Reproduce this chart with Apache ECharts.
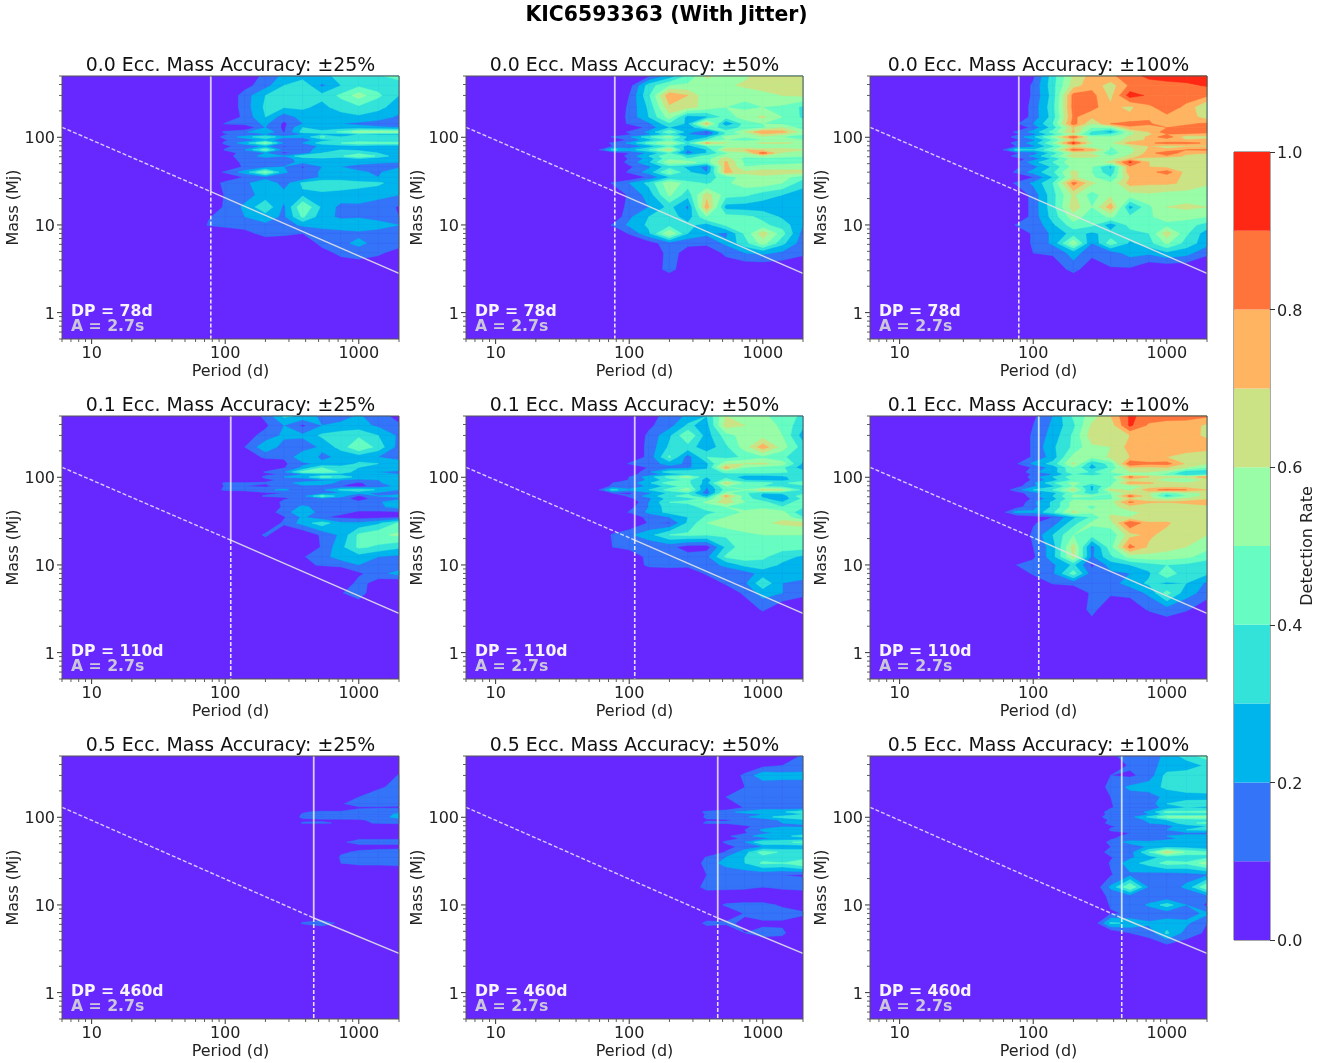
<!DOCTYPE html>
<html><head><meta charset="utf-8">
<style>html,body{margin:0;padding:0;background:#fff}#c{width:1333px;height:1063px}</style>
<script src="https://cdn.jsdelivr.net/npm/echarts@6/dist/echarts.min.js"></script></head>
<body><div id="c"></div>
<script>
const figureTitle='KIC6593363 (With Jitter)';
const eccentricities=['0.0','0.1','0.5'];
const accuracies=['25','50','100'];
const dpDays=[78,110,460];
const massAtDp=[24,19.2,7.1];
const lineLeft=[6,130];
const lineRight=[2000,2.8];
const amplitudeLabel='A = 2.7s';
const xTickMajor=[10,100,1000];
const xTickMinor=[6,7,8,9,20,30,40,50,60,70,80,90,200,300,400,500,600,700,800,900,2000];
const yTickMajor=[1,10,100];
const yTickMinor=[0.5,0.6,0.7,0.8,0.9,2,3,4,5,6,7,8,9,20,30,40,50,60,70,80,90,200,300,400,500];
const levels=[10,20,30,40,50,60,70,80,90];
const bandColors=['#6628fe','#3374f8','#00b4ec','#33e3da','#66fcc2','#99fca6','#cce385','#ffb462','#ff743b','#ff2814'];
const colorbarBands=[0.1,0.1,0.1,0.1,0.1,0.1,0.1,0.1,0.1,0.1];
// detection rate in percent, rows = masses (top to bottom), columns = periods after the leading empty column
const periods=[54,75,100,140,200,275,380,530,735,1000,1400,2000];
const masses=[500,390,300,221,170,143,129,115,108,101,93,86,79,72,66,61,57,52,46,40,35,30,22,16,12.4,10,8,6.2,4.8,3.1,2.4];
const e00a25=[
[0,0,0,14,22,25,28,32,35,38,46],
[0,0,6,16,30,38,18,30,38,36,32],
[0,0,15,30,33,36,33,42,55,42,30],
[0,0,15,32,31,32,27,35,38,33,25],
[0,0,13,30,14,24,25,25,28,25,18],
[0,11,14,22,8,20,22,20,18,15,12],
[0,0,0,20,8,30,24,24,24,22,20],
[0,12,18,30,9,34,33,42,55,55,52],
[0,9,13,18,14,20,28,26,30,28,28],
[0,14,24,40,22,22,42,30,32,35,35],
[0,9,14,24,14,15,26,32,32,30,30],
[0,12,25,52,18,20,35,40,48,45,44],
[0,8,14,22,9,14,22,25,26,24,24],
[0,11,20,46,14,12,28,30,28,26,25],
[0,6,13,20,8,14,30,35,38,30,22],
[0,5,17,22,20,38,40,38,50,38,22],
[0,4,15,18,15,25,28,24,30,24,20],
[0,0,14,18,17,22,24,26,24,22,20],
[0,0,12,16,20,9,20,20,16,14,18],
[0,12,24,52,22,12,22,24,22,18,30],
[0,0,11,15,12,10,22,24,20,20,22],
[0,14,17,29,15,32,38,36,34,32,24],
[0,11,16,24,24,28,27,26,25,23,20],
[0,12,22,38,18,50,28,17,18,15,9],
[9,15,20,25,18,42,24,18,19,16,10],
[11,14,16,18,15,22,26,26,26,24,20],
[0,0,5,15,13,10,12,16,18,16,14],
[0,0,0,0,0,0,14,18,22,17,15],
[0,0,0,0,0,0,5,13,16,12,5],
[0,0,0,0,0,0,0,0,0,0,0],
[0,0,0,0,0,0,0,0,0,0,0]];
const e00a50=[
[0,0,8,24,42,62,55,58,65,66,66],
[0,5,35,50,52,55,58,62,65,66,66],
[0,10,38,78,70,52,50,52,56,60,62],
[0,12,32,68,64,56,50,48,50,48,38],
[0,13,30,55,25,28,44,55,62,50,38],
[0,12,18,38,28,72,20,44,50,48,45],
[0,0,14,30,22,45,36,42,48,60,45],
[0,12,22,48,25,8,42,60,80,74,55],
[0,9,18,36,20,12,42,52,68,62,50],
[11,18,38,55,28,28,55,50,58,50,44],
[0,12,26,42,26,40,50,48,50,50,50],
[12,22,44,60,36,72,60,55,62,62,58],
[10,12,24,42,26,40,50,50,50,50,50],
[32,25,40,66,20,30,68,70,66,68,62],
[0,10,22,40,16,30,48,56,86,58,50],
[0,14,30,50,36,42,55,52,60,55,50],
[0,11,24,48,40,45,66,46,45,44,44],
[0,14,28,58,54,45,72,48,42,45,48],
[0,8,18,36,28,16,74,50,55,55,55],
[0,12,24,52,32,20,74,62,64,64,64],
[0,0,12,30,30,38,42,56,58,54,44],
[11,20,33,58,45,38,48,55,56,50,34],
[0,12,24,52,34,66,44,42,35,30,25],
[0,14,20,33,18,76,26,25,24,24,25],
[0,18,30,36,24,50,44,42,38,28,25],
[11,22,32,36,33,26,42,42,42,36,20],
[0,11,28,60,30,22,18,42,66,44,16],
[0,0,5,16,12,13,22,36,55,33,14],
[0,0,0,14,6,0,13,20,22,18,12],
[0,0,0,15,0,0,0,0,0,0,0],
[0,0,0,0,0,0,0,0,0,0,0]];
const e00a100=[
[0,8,35,62,74,78,85,93,95,95,95],
[0,12,36,65,76,65,82,84,86,88,91],
[0,12,34,84,84,67,95,88,84,84,82],
[0,14,36,84,84,72,68,78,85,78,58],
[0,14,34,82,72,72,72,78,78,76,65],
[9,20,40,85,60,80,84,82,72,78,82],
[0,14,34,70,50,50,78,74,80,84,84],
[12,24,44,72,38,24,58,70,86,86,85],
[8,16,36,60,35,40,58,68,80,78,74],
[14,28,52,88,52,50,62,72,88,62,68],
[8,18,40,70,55,52,64,72,72,70,72],
[14,24,50,92,60,58,74,78,84,84,78],
[10,18,38,66,52,50,60,70,66,68,68],
[34,30,48,85,76,48,56,72,72,80,82],
[8,15,34,60,58,44,58,74,90,72,70],
[14,22,42,68,66,50,62,78,78,68,60],
[6,14,32,56,55,56,70,64,60,60,60],
[8,26,40,58,55,62,92,70,62,60,65],
[8,16,32,54,50,28,78,70,68,62,66],
[12,24,38,64,50,32,78,76,85,66,68],
[0,10,30,62,52,40,70,74,74,68,66],
[12,22,40,84,62,52,74,72,72,68,62],
[0,14,36,62,45,58,56,58,55,55,52],
[0,14,36,66,50,76,26,48,60,62,60],
[0,14,34,56,44,52,42,48,56,54,50],
[11,12,28,46,42,24,44,46,46,44,36],
[0,12,22,34,28,34,36,40,66,42,24],
[0,12,22,58,20,46,28,36,52,36,24],
[0,10,12,24,14,15,24,22,28,24,12],
[0,0,0,15,0,9,8,0,0,0,0],
[0,0,0,0,0,0,0,0,0,0,0]];
const e01a25=[
[0,0,0,13,32,28,17,17,21,16,5],
[0,0,0,8,20,8,20,22,24,18,12],
[0,0,5,14,22,22,32,36,38,30,18],
[0,0,10,27,16,14,22,34,50,36,16],
[0,0,0,13,11,28,18,22,24,20,14],
[0,0,0,0,8,18,22,22,32,30,27],
[0,0,0,0,9,22,40,36,30,28,26],
[0,0,0,11,18,44,48,38,24,20,18],
[0,0,0,8,11,20,24,26,24,22,20],
[0,0,0,12,20,24,42,38,25,24,24],
[0,0,0,8,12,14,18,20,18,20,22],
[0,12,11,11,16,24,26,16,8,18,28],
[0,11,10,8,14,18,16,10,6,16,22],
[0,13,12,18,22,14,18,32,38,28,20],
[0,0,6,8,10,11,14,20,22,18,18],
[0,0,5,11,11,16,42,24,8,20,22],
[0,0,0,5,9,12,16,14,6,14,18],
[0,0,0,0,13,15,14,10,12,18,28],
[0,0,0,0,12,22,16,16,14,18,24],
[0,0,0,5,14,30,14,12,9,8,9],
[0,0,0,0,9,22,11,8,6,7,9],
[0,0,0,0,12,24,36,22,22,28,42],
[0,0,0,12,0,0,12,22,42,48,52],
[0,0,0,0,0,0,11,27,42,38,32],
[0,0,0,0,0,9,16,25,26,20,18],
[0,0,0,0,0,8,11,13,20,14,12],
[0,0,0,0,0,0,0,0,8,16,24],
[0,0,0,0,0,0,0,0,14,5,0],
[0,0,0,0,0,0,0,9,16,0,0],
[0,0,0,0,0,0,0,0,0,0,0],
[0,0,0,0,0,0,0,0,0,0,0]];
const e01a50=[
[0,0,6,14,22,30,60,55,52,45,38],
[0,0,8,16,32,26,65,60,55,48,32],
[0,0,12,28,50,25,45,55,55,50,25],
[0,0,13,32,36,22,38,55,76,55,35],
[0,0,13,42,15,40,36,42,48,42,32],
[0,11,15,24,18,28,58,60,62,55,28],
[0,0,11,16,18,28,74,50,46,42,24],
[0,0,18,36,38,34,42,44,44,42,34],
[0,7,14,24,30,30,38,36,36,34,30],
[0,10,25,44,55,30,38,24,22,28,36],
[0,11,22,36,42,26,44,30,28,28,34],
[10,14,28,46,42,26,66,46,44,36,50],
[12,12,22,34,46,20,50,40,40,36,36],
[34,22,30,44,55,18,44,50,64,60,36],
[10,8,18,32,38,14,52,42,30,32,36],
[0,12,24,38,44,26,74,45,28,24,48],
[0,7,18,34,38,42,64,46,32,24,42],
[0,0,20,40,42,52,66,50,44,30,50],
[0,6,20,36,36,44,50,46,46,40,42],
[0,11,22,34,32,38,42,52,58,54,30],
[0,0,14,20,30,42,50,54,58,58,40],
[0,0,11,9,32,50,56,56,58,62,64],
[11,18,26,40,42,40,42,48,50,50,50],
[10,14,12,13,5,5,32,48,46,44,44],
[0,0,14,14,14,17,42,46,42,34,28],
[0,0,13,15,14,16,22,33,36,28,24],
[0,0,0,0,0,12,14,15,24,24,28],
[0,0,0,0,0,0,12,18,38,20,15],
[0,0,0,0,0,0,0,13,24,20,13],
[0,0,0,0,0,0,0,0,12,0,0],
[0,0,0,0,0,0,0,0,0,0,0]];
const e01a100=[
[0,8,20,42,55,70,92,86,84,84,82],
[0,10,22,38,62,64,92,78,76,75,68],
[0,12,24,42,66,60,70,78,76,74,68],
[0,12,28,42,58,60,74,76,76,75,76],
[0,12,24,54,52,62,70,72,70,66,60],
[9,22,34,62,30,44,88,82,84,68,60],
[0,12,24,50,26,42,70,68,70,60,50],
[0,18,25,48,38,50,60,60,55,32,30],
[0,12,20,40,34,44,52,52,46,30,36],
[0,15,30,46,48,46,82,70,62,62,78],
[0,12,26,42,40,42,66,62,56,54,62],
[0,18,38,54,42,46,76,72,64,60,66],
[6,18,28,50,28,50,56,62,64,64,64],
[15,30,40,64,28,64,58,76,84,80,70],
[6,15,26,48,34,50,64,62,44,56,62],
[0,16,30,52,50,48,84,62,34,50,65],
[0,12,26,48,46,48,68,62,56,62,68],
[0,18,32,54,54,56,82,72,70,74,78],
[6,16,32,54,48,56,66,62,62,62,66],
[24,22,38,62,52,58,58,62,62,62,62],
[0,6,10,28,42,62,60,60,62,62,62],
[0,9,15,36,52,56,90,72,72,62,62],
[0,12,30,50,44,42,66,72,66,62,60],
[0,10,25,64,16,46,84,68,64,60,52],
[0,8,26,62,18,38,54,56,55,52,46],
[10,14,18,32,8,24,30,36,40,38,32],
[0,12,18,45,14,18,20,28,50,30,32],
[0,0,11,13,13,16,24,32,28,30,18],
[0,0,0,0,12,12,14,22,44,24,16],
[0,0,0,0,14,0,0,12,15,12,0],
[0,0,0,0,8,0,0,0,8,0,0]];
const e05a25=[
[0,0,0,0,0,0,0,0,0,0,0],
[0,0,0,0,0,0,0,0,0,0,0],
[0,0,0,0,0,0,0,0,0,0,11],
[0,0,0,0,0,0,0,0,0,9,12],
[0,0,0,0,0,0,0,8,10,13,13],
[0,0,0,0,0,0,0,9,14,12,12],
[0,0,0,0,0,0,0,0,9,9.5,9],
[0,0,0,0,0,9,12,12,13,14,18],
[0,0,0,0,0,11,12,13,13,15,22],
[0,0,0,0,0,12,13,13,12,15,24],
[0,0,0,0,0,8,9,9,9.5,11,16],
[0,0,0,0,0,11,11,9,8,11,13],
[0,0,0,0,0,0,0,0,0,0,0],
[0,0,0,0,0,0,0,0,0,0,0],
[0,0,0,0,0,0,0,0,0,0,0],
[0,0,0,0,0,0,0,0,0,0,0],
[0,0,0,0,0,0,0,8,9.5,9.5,9.5],
[0,0,0,0,0,0,0,9,12,12,12],
[0,0,0,0,0,0,0,0,8,8,8],
[0,0,0,0,0,0,0,9,11,12,13],
[0,0,0,0,0,0,0,11,13,13,14],
[0,0,0,0,0,0,0,10,12,12,13],
[0,0,0,0,0,0,0,0,0,0,0],
[0,0,0,0,0,0,0,0,0,0,0],
[0,0,0,0,0,0,0,0,0,0,0],
[0,0,0,0,0,0,0,0,0,0,0],
[0,0,0,0,0,0,0,0,0,0,0],
[0,0,0,0,0,11,14,8,0,0,0],
[0,0,0,0,0,0,0,0,0,0,0],
[0,0,0,0,0,0,0,0,0,0,0],
[0,0,0,0,0,0,0,0,0,0,0]];
const e05a50=[
[0,0,0,0,0,0,0,0,0,0,12],
[0,0,0,0,0,0,0,0,7,10,12],
[0,0,0,0,0,0,0,13,27,24,24],
[0,0,0,0,0,0,0,10,11,13,13],
[0,0,0,0,0,0,10,12,13,14,14],
[0,0,0,0,0,0,6,13,20,16,14],
[0,0,0,0,0,0,0,11,17,13,11],
[0,0,0,0,0,13,18,22,24,28,40],
[0,0,0,0,0,11,14,18,20,24,30],
[0,0,0,0,0,12,16,18,26,34,38],
[0,0,0,0,0,9,9,12,14,22,28],
[0,0,0,0,0,12,12,14,16,20,22],
[0,0,0,0,0,0,0,9,12,18,18],
[0,0,0,0,0,0,0,10,22,30,28],
[0,0,0,0,0,0,0,9,18,22,24],
[0,0,0,0,0,0,8,16,25,26,35],
[0,0,0,0,0,0,6,12,16,24,24],
[0,0,0,0,0,0,12,20,40,38,42],
[0,0,0,0,0,0,6,14,20,22,24],
[0,0,0,0,0,0,11,26,46,38,36],
[0,0,0,0,0,11,20,30,36,32,34],
[0,0,0,0,0,14,24,30,42,40,50],
[0,0,0,0,0,10,12,13,12,10,9],
[0,0,0,0,0,15,14,13,10,13,15],
[0,0,0,0,0,0,0,0,0,0,0],
[0,0,0,0,0,0,12,14,14,8,0],
[0,0,0,0,0,0,0,11,15,15,13],
[0,0,0,0,0,13,12,8,8,8,0],
[0,0,0,0,0,0,0,10,13,12,0],
[0,0,0,0,0,0,0,0,0,0,0],
[0,0,0,0,0,0,0,0,0,0,0]];
const e05a100=[
[0,0,0,0,0,8,14,16,22,35,45],
[0,0,0,0,0,0,12,18,22,24,32],
[0,0,0,0,0,10,8,14,34,36,36],
[0,0,0,0,0,14,22,26,32,37,38],
[0,0,0,0,0,10,16,14,24,24,25],
[0,0,0,0,0,9,20,14,30,36,36],
[0,0,0,0,0,9,16,14,24,30,28],
[0,0,0,0,0,15,14,22,44,42,44],
[0,0,0,0,0,14,14,20,34,30,32],
[0,0,0,0,0,18,16,32,50,52,52],
[0,0,0,0,0,12,14,22,30,34,36],
[0,0,0,0,0,14,18,20,22,38,42],
[0,0,0,0,0,9,13,15,18,24,30],
[0,0,0,0,0,11,12,14,20,30,32],
[0,0,0,0,0,8,10,13,14,18,18],
[0,0,0,0,0,9,11,15,20,22,22],
[0,0,0,0,0,9,14,15,18,22,22],
[0,0,0,0,0,13,24,22,24,30,28],
[0,0,0,0,0,10,12,22,26,26,22],
[0,0,0,0,0,15,16,40,66,48,42],
[0,0,0,0,0,9,18,26,34,32,38],
[0,0,0,0,0,11,26,34,44,42,55],
[0,0,0,0,0,9,18,16,14,16,18],
[0,0,0,0,0,22,50,18,14,22,50],
[0,0,0,0,0,13,13,12,12,12,14],
[0,0,0,0,0,11,11,22,35,20,8],
[0,0,0,0,0,9,11,11,14,16,22],
[0,0,0,0,0,32,28,22,25,22,10],
[0,0,0,0,0,0,10,14,32,16,8],
[0,0,0,0,0,0,0,0,0,0,0],
[0,0,0,0,0,0,0,0,0,0,0]];
const panelMatrices=[e00a25,e00a50,e00a100,e01a25,e01a50,e01a100,e05a25,e05a50,e05a100];

const gridLefts=[62,466,870], gridTops=[76,416,756], gridW=337, gridH=263;
const xExtent=[6,2000], yExtent=[0.5,500];
const font='"DejaVu Sans"';

function clipAbove(poly,L){
  const out=[];
  for(let i=0;i<poly.length;i++){
    const a=poly[i],b=poly[(i+1)%poly.length];
    const ina=a[2]>=L,inb=b[2]>=L;
    if(ina) out.push(a);
    if(ina!==inb){
      const t=(L-a[2])/(b[2]-a[2]);
      out.push([a[0]+t*(b[0]-a[0]),a[1]+t*(b[1]-a[1]),L]);
    }
  }
  return out;
}
function contourItem(matrix){
  return function(params,api){
    const pts=masses.map(m=>periods.map(p=>api.coord([p,m])));
    const val=masses.map((m,j)=>[0].concat(matrix[j]));
    const children=[];
    levels.forEach((L,k)=>{
      const color=bandColors[k+1];
      for(let j=0;j<masses.length-1;j++)for(let i=0;i<periods.length-1;i++){
        const q=[[i,j],[i+1,j],[i+1,j+1],[i,j+1]].map(c=>[pts[c[1]][c[0]][0],pts[c[1]][c[0]][1],val[c[1]][c[0]]]);
        if(Math.max(q[0][2],q[1][2],q[2][2],q[3][2])<L) continue;
        const poly=clipAbove(q,L);
        if(poly.length<3) continue;
        children.push({type:'polygon',silent:true,shape:{points:poly.map(p=>[p[0],p[1]])},style:{fill:color,stroke:color,lineWidth:0.4}});
      }
    });
    return {type:'group',children};
  };
}
function tickItem(params,api){
  const ch=[];
  const seg=(a,b,w)=>ch.push({type:'line',silent:true,shape:{x1:a[0],y1:a[1],x2:b[0],y2:b[1]},style:{stroke:'#333',lineWidth:w}});
  const tl=api.coord([xExtent[0],yExtent[1]]),br=api.coord([xExtent[1],yExtent[0]]);
  xTickMajor.forEach(v=>{const p=api.coord([v,yExtent[0]]);seg(p,[p[0],p[1]+5],1);});
  xTickMinor.forEach(v=>{const p=api.coord([v,yExtent[0]]);seg(p,[p[0],p[1]+3],0.8);});
  yTickMajor.forEach(v=>{const p=api.coord([xExtent[0],v]);seg(p,[p[0]-5,p[1]],1);});
  yTickMinor.forEach(v=>{const p=api.coord([xExtent[0],v]);seg(p,[p[0]-3,p[1]],0.8);});
  ch.push({type:'rect',silent:true,shape:{x:tl[0],y:tl[1],width:br[0]-tl[0],height:br[1]-tl[1]},style:{fill:'none',stroke:'#555',lineWidth:1}});
  return {type:'group',children:ch};
}

const grids=[],xAxes=[],yAxes=[],series=[],titles=[];
titles.push({text:figureTitle,left:666.5,top:6,padding:0,textAlign:'center',textStyle:{fontFamily:font,fontWeight:'bold',fontSize:20.4,color:'#000'}});
const axisText={fontFamily:font,fontSize:16,color:'#222'};
const shiftedLabel={a:{fontFamily:font,fontSize:16,color:'#222',padding:[4,0,0,0]}};
for(let r=0;r<3;r++)for(let c=0;c<3;c++){
  const idx=grids.length;
  grids.push({left:gridLefts[c],top:gridTops[r],width:gridW,height:gridH,show:true,backgroundColor:bandColors[0],borderWidth:0});
  xAxes.push({type:'log',logBase:10,gridIndex:idx,min:xExtent[0],max:xExtent[1],name:'Period (d)',nameLocation:'middle',nameGap:25,
    nameTextStyle:axisText,axisLine:{show:false},axisTick:{show:false},splitLine:{show:false},minorTick:{show:false},
    axisLabel:{...axisText,margin:7,showMinLabel:false,showMaxLabel:false,formatter:v=>String(Math.round(v))}});
  yAxes.push({type:'log',logBase:10,gridIndex:idx,min:yExtent[0],max:yExtent[1],name:'Mass (Mj)',nameLocation:'middle',nameGap:40,nameMoveOverlap:false,
    nameTextStyle:axisText,axisLine:{show:false},axisTick:{show:false},splitLine:{show:false},minorTick:{show:false},
    axisLabel:{...axisText,margin:7,rich:shiftedLabel,showMinLabel:false,showMaxLabel:false,formatter:v=>'{a|'+Math.round(v)+'}'}});
  series.push({type:'custom',xAxisIndex:idx,yAxisIndex:idx,z:2,silent:true,coordinateSystem:'cartesian2d',data:[[10,10]],renderItem:contourItem(panelMatrices[idx])});
  const dp=dpDays[r],m=massAtDp[r];
  const ln=(data,color,w,type)=>series.push({type:'line',xAxisIndex:idx,yAxisIndex:idx,z:3,silent:true,showSymbol:false,symbol:'none',data,lineStyle:{color,width:w,type}});
  ln([lineLeft,[dp,m]],'rgba(255,255,255,0.75)',1.4,[4,2]);
  ln([[dp,m],lineRight],'rgba(225,225,225,0.9)',1.5,'solid');
  ln([[dp,yExtent[1]],[dp,m]],'rgba(255,255,255,0.75)',1.8,'solid');
  ln([[dp,m],[dp,yExtent[0]]],'rgba(255,255,255,0.85)',1.6,[4,2]);
  series.push({type:'custom',xAxisIndex:idx,yAxisIndex:idx,z:4,silent:true,coordinateSystem:'cartesian2d',data:[[10,10]],renderItem:tickItem});
  titles.push({text:eccentricities[r]+' Ecc. Mass Accuracy: \u00b1'+accuracies[c]+'%',left:gridLefts[c]+gridW/2,top:gridTops[r]-19,padding:0,textAlign:'center',
    textStyle:{fontFamily:font,fontWeight:'normal',fontSize:18.9,color:'#111'}});
  titles.push({text:'DP = '+dp+'d',left:gridLefts[c]+9,top:gridTops[r]+228,padding:0,textStyle:{fontFamily:font,fontWeight:'bold',fontSize:15.7,color:'rgba(255,255,255,0.95)'}});
  titles.push({text:amplitudeLabel,left:gridLefts[c]+9,top:gridTops[r]+243,padding:0,textStyle:{fontFamily:font,fontWeight:'bold',fontSize:15.7,color:'rgba(215,215,215,0.9)'}});
}
// colourbar
const cb=grids.length;
grids.push({left:1234,top:152,width:36,height:788,show:true,borderColor:'#555',borderWidth:1});
xAxes.push({type:'category',gridIndex:cb,data:['rate'],show:false});
yAxes.push({type:'value',gridIndex:cb,position:'right',min:0,max:1,interval:0.2,name:'Detection Rate',nameLocation:'middle',nameGap:30,nameRotate:90,nameMoveOverlap:false,
  nameTextStyle:axisText,splitLine:{show:false},axisLine:{show:false},axisTick:{show:true,length:5,lineStyle:{color:'#333'}},
  axisLabel:{...axisText,margin:7,rich:shiftedLabel,formatter:v=>'{a|'+v.toFixed(1)+'}'}});
colorbarBands.forEach((v,i)=>series.push({type:'bar',xAxisIndex:cb,yAxisIndex:cb,stack:'cb',barWidth:'100%',silent:true,data:[v],itemStyle:{color:bandColors[i]}}));

const chart=echarts.init(document.getElementById('c'),null,{renderer:'canvas'});
chart.setOption({animation:false,backgroundColor:'#fff',title:titles,grid:grids,xAxis:xAxes,yAxis:yAxes,series,tooltip:{show:false}});
</script></body></html>
